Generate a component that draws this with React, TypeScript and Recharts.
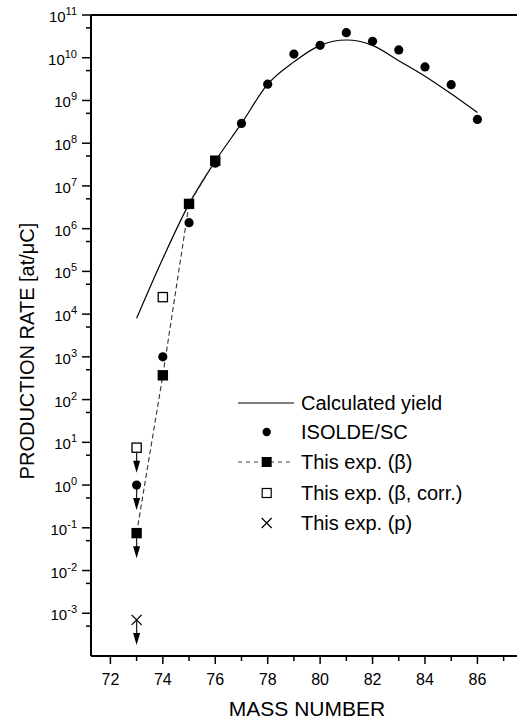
import { ComposedChart, Line, Scatter, XAxis, YAxis, ReferenceLine } from 'recharts'

// calculated yield (solid curve)
const calcMass = [73, 74, 75, 76, 77, 78, 79, 80, 81, 82, 83, 84, 85, 86]
const calcYield = [8e3, 2e5, 3.8e6, 3.8e7, 2.9e8, 2.4e9, 8e9, 1.95e10, 2.6e10, 1.95e10, 8.5e9, 3.7e9, 1.43e9, 5.2e8]

// ISOLDE/SC
const isoldeMass = [73, 74, 75, 76, 77, 78, 79, 80, 81, 82, 83, 84, 85, 86]
const isoldeRate = [1.0, 1.0e3, 1.38e6, 3.4e7, 2.9e8, 2.4e9, 1.22e10, 1.95e10, 3.85e10, 2.43e10, 1.52e10, 6.1e9, 2.34e9, 3.6e8]
const isoldeLimit = [true, false, false, false, false, false, false, false, false, false, false, false, false, false]

// This exp. (beta)
const betaMass = [73, 74, 75, 76]
const betaRate = [0.075, 3.7e2, 3.8e6, 3.9e7]
const betaLimit = [true, false, false, false]

// This exp. (beta, corr.)
const corrMass = [73, 74]
const corrRate = [7.5, 2.5e4]
const corrLimit = [true, false]

// This exp. (p)
const protonMass = [73]
const protonRate = [7e-4]
const protonLimit = [true]

const xTicks = [72, 73, 74, 75, 76, 77, 78, 79, 80, 81, 82, 83, 84, 85, 86, 87]
const yTicks = [
  5e-4, 1e-3, 5e-3, 1e-2, 5e-2, 1e-1, 5e-1, 1, 5, 10, 50, 1e2, 5e2, 1e3, 5e3, 1e4, 5e4, 1e5, 5e5, 1e6,
  5e6, 1e7, 5e7, 1e8, 5e8, 1e9, 5e9, 1e10, 5e10, 1e11,
]

const legendLabels = ['Calculated yield', 'ISOLDE/SC', 'This exp. (\u03b2)', 'This exp. (\u03b2, corr.)', 'This exp. (p)']

const FONT = '"Liberation Sans", Arial, Helvetica, sans-serif'

const toRows = (mass: number[], rate: number[], limit?: boolean[]) =>
  mass.map((m, i) => ({ mass: m, rate: rate[i], limit: limit ? limit[i] : false }))

const calcData = toRows(calcMass, calcYield)
const isoldeData = toRows(isoldeMass, isoldeRate, isoldeLimit)
const betaData = toRows(betaMass, betaRate, betaLimit)
const corrData = toRows(corrMass, corrRate, corrLimit)
const protonData = toRows(protonMass, protonRate, protonLimit)

function Arrow({ cx, cy, from }: { cx: number; cy: number; from: number }) {
  return (
    <g>
      <line x1={cx} x2={cx} y1={cy + from} y2={cy + 14} stroke="#222" strokeWidth={1.3} />
      <polygon points={`${cx - 3.5},${cy + 13} ${cx + 3.5},${cy + 13} ${cx},${cy + 25}`} fill="#000" />
    </g>
  )
}

function CircleShape(props: any) {
  const { cx, cy, payload } = props
  return (
    <g>
      {payload.limit && <Arrow cx={cx} cy={cy} from={4} />}
      <circle cx={cx} cy={cy} r={4.6} fill="#000" />
    </g>
  )
}

function FilledSquare(props: any) {
  const { cx, cy, payload } = props
  return (
    <g>
      {payload.limit && <Arrow cx={cx} cy={cy} from={5} />}
      <rect x={cx - 5.2} y={cy - 5.2} width={10.4} height={10.4} fill="#000" />
    </g>
  )
}

function OpenSquare(props: any) {
  const { cx, cy, payload } = props
  return (
    <g>
      {payload.limit && <Arrow cx={cx} cy={cy} from={5} />}
      <rect x={cx - 4.6} y={cy - 4.6} width={9.2} height={9.2} fill="#fff" stroke="#000" strokeWidth={1.3} />
    </g>
  )
}

function Cross(props: any) {
  const { cx, cy, payload } = props
  return (
    <g>
      {payload.limit && <Arrow cx={cx} cy={cy} from={1} />}
      <path d={`M${cx - 5},${cy - 5}L${cx + 5},${cy + 5}M${cx - 5},${cy + 5}L${cx + 5},${cy - 5}`} stroke="#000" strokeWidth={1.3} />
    </g>
  )
}

function YTick({ x, y, payload }: any) {
  const lg = Math.log10(payload.value)
  const exp = Math.round(lg)
  const major = Math.abs(lg - exp) < 1e-6
  return (
    <g>
      <line x1={x - (major ? 9 : 5)} x2={x} y1={y} y2={y} stroke="#000" strokeWidth={1.5} />
      {major && (
        <text x={x - 14} y={y + 7} textAnchor="end" fontSize={15} fill="#000" fontFamily={FONT}>
          10<tspan dy={-7} fontSize={11}>{exp}</tspan>
        </text>
      )}
    </g>
  )
}

function XTick({ x, y, payload }: any) {
  const major = payload.value % 2 === 0
  return (
    <g>
      <line x1={x} x2={x} y1={y} y2={y + (major ? 8 : 5)} stroke="#000" strokeWidth={1.5} />
      {major && (
        <text x={x} y={y + 29} textAnchor="middle" fontSize={16} fill="#000" fontFamily={FONT}>
          {payload.value}
        </text>
      )}
    </g>
  )
}

function LegendBox() {
  const rows = [18, 47, 77, 108, 138]
  const mx = 36.7
  return (
    <svg width={280} height={160} style={{ position: 'absolute', left: 230, top: 385, fontFamily: FONT }}>
      <line x1={8} x2={64} y1={rows[0]} y2={rows[0]} stroke="#000" strokeWidth={1.2} />
      <circle cx={mx} cy={rows[1]} r={4.2} fill="#000" />
      <line x1={8} x2={64} y1={rows[2]} y2={rows[2]} stroke="#444" strokeWidth={1.1} strokeDasharray="4 4" />
      <rect x={mx - 5} y={rows[2] - 5} width={10} height={10} fill="#000" />
      <rect x={mx - 4.5} y={rows[3] - 4.5} width={9} height={9} fill="#fff" stroke="#000" strokeWidth={1.2} />
      <path d={`M${mx - 5},${rows[4] - 5}L${mx + 5},${rows[4] + 5}M${mx - 5},${rows[4] + 5}L${mx + 5},${rows[4] - 5}`} stroke="#000" strokeWidth={1.2} />
      {legendLabels.map((t, i) => (
        <text key={t} x={71} y={rows[i] + 7} fontSize={20} fill="#000">
          {t}
        </text>
      ))}
    </svg>
  )
}

export default function App() {
  return (
    <div style={{ position: 'absolute', left: 0, top: 0, width: 517, height: 724, background: '#fff', fontFamily: FONT }}>
      <ComposedChart width={517} height={724} margin={{ top: 15, right: 0, bottom: 0, left: 0 }}>
        <XAxis
          dataKey="mass"
          type="number"
          domain={[71.26, 87.51]}
          allowDataOverflow
          ticks={xTicks}
          interval={0}
          tick={<XTick />}
          tickLine={false}
          tickSize={0}
          tickMargin={0}
          axisLine={{ stroke: '#000', strokeWidth: 2 }}
          height={68}
          label={{
            content: () => (
              <text x={307} y={716} textAnchor="middle" fontSize={21} fill="#000" fontFamily={FONT}>
                MASS NUMBER
              </text>
            ),
          }}
        />
        <YAxis
          type="number"
          scale="log"
          domain={[1e-4, 1e11]}
          allowDataOverflow
          ticks={yTicks}
          interval={0}
          tick={<YTick />}
          tickLine={false}
          tickSize={0}
          tickMargin={0}
          axisLine={{ stroke: '#000', strokeWidth: 2 }}
          width={91}
          label={{
            content: () => (
              <text
                x={0}
                y={0}
                transform="translate(34 351) rotate(-90)"
                textAnchor="middle"
                fontSize={20}
                fill="#000"
                fontFamily={FONT}
              >
                PRODUCTION RATE [at/{'\u03bc'}C]
              </text>
            ),
          }}
        />
        <ReferenceLine y={1e11} stroke="#000" strokeWidth={2} />
        <Line
          data={calcData}
          dataKey="rate"
          type="monotone"
          stroke="#000"
          strokeWidth={1.2}
          dot={false}
          activeDot={false}
          isAnimationActive={false}
        />
        <Line
          data={betaData}
          dataKey="rate"
          type="linear"
          stroke="#333"
          strokeWidth={1.1}
          strokeDasharray="5 3"
          dot={false}
          activeDot={false}
          isAnimationActive={false}
        />
        <Scatter data={isoldeData} dataKey="rate" shape={<CircleShape />} isAnimationActive={false} />
        <Scatter data={betaData} dataKey="rate" shape={<FilledSquare />} isAnimationActive={false} />
        <Scatter data={corrData} dataKey="rate" shape={<OpenSquare />} isAnimationActive={false} />
        <Scatter data={protonData} dataKey="rate" shape={<Cross />} isAnimationActive={false} />
      </ComposedChart>
      <LegendBox />
    </div>
  )
}
